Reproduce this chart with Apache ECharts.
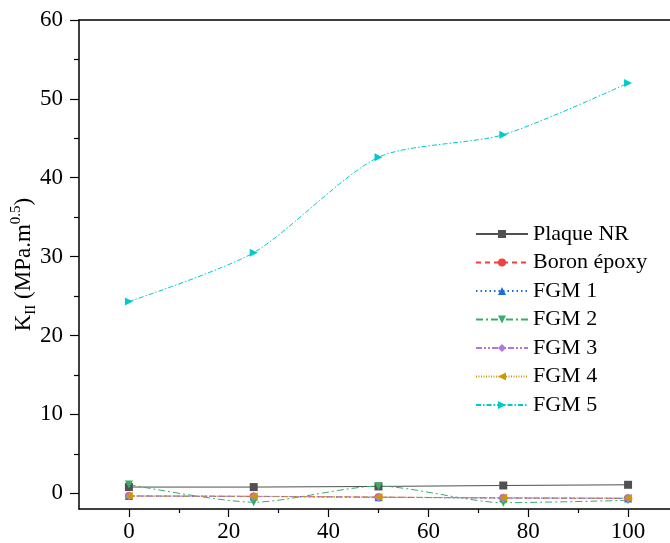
<!DOCTYPE html>
<html>
<head>
    <meta charset="UTF-8">
    <title>KII</title>
    <script src="https://cdn.jsdelivr.net/npm/echarts@6/dist/echarts.min.js"></script>
    <style>
        body { margin: 0; padding: 0; background: #fff; }
        #chart { width: 670px; height: 543px; }
    </style>
</head>
<body>
    <div id="chart"></div>
    <script>
        // valeurs
        const xValues = [0, 25, 50, 75, 100];
        const plaqueNR = [0.78, 0.78, 0.86, 0.98, 1.07];
        const boronEpoxy = [-0.35, -0.4, -0.5, -0.6, -0.65];
        const fgm1 = [-0.35, -0.42, -0.52, -0.62, -0.66];
        const fgm2 = [1.1, -1.14, 0.9, -1.2, -0.9];
        const fgm3 = [-0.36, -0.4, -0.5, -0.6, -0.64];
        const fgm4 = [-0.35, -0.38, -0.48, -0.58, -0.62];
        const fgm5 = [24.3, 30.5, 42.6, 45.45, 52.0];

        const xMajor = [0, 20, 40, 60, 80, 100];
        const xMinor = [10, 30, 50, 70, 90];
        const yMajor = [0, 10, 20, 30, 40, 50, 60];
        const yMinor = [5, 15, 25, 35, 45, 55];

        const font = 'Liberation Serif';

        const pairs = vals => xValues.map((x, i) => [x, vals[i]]);

        const seriesDefs = [
            { name: 'Plaque NR', data: plaqueNR, color: '#515151', type: 'solid', symbol: 'rect', rot: 0 },
            { name: 'Boron époxy', data: boronEpoxy, color: '#F14040', type: [5, 4], symbol: 'circle', rot: 0 },
            { name: 'FGM 1', data: fgm1, color: '#1A6FDF', type: [1.5, 3], symbol: 'triangle', rot: 0 },
            { name: 'FGM 2', data: fgm2, color: '#37AD6B', type: [7, 3, 2, 3], symbol: 'triangle', rot: 180 },
            { name: 'FGM 3', data: fgm3, color: '#B177DE', type: [6, 2, 2, 2, 2, 2], symbol: 'diamond', rot: 0 },
            { name: 'FGM 4', data: fgm4, color: '#CC9900', type: [1, 1.5], symbol: 'triangle', rot: 90 },
            { name: 'FGM 5', data: fgm5, color: '#00CBCC', type: [5, 2, 1.5, 2], symbol: 'triangle', rot: -90 }
        ];

        const chart = echarts.init(document.getElementById('chart'));

        const axisBase = {
            type: 'value',
            splitLine: { show: false }
        };

        const option = {
            backgroundColor: '#fff',
            animation: false,
            grid: { left: 79, right: 0, top: 20, bottom: 34, containLabel: false, outerBoundsMode: 'none' },
            legend: {
                orient: 'vertical',
                left: 470,
                top: 218,
                itemWidth: 52,
                itemHeight: 10,
                itemGap: 6.5,
                textStyle: { fontFamily: font, fontSize: 22, color: '#000' },
                data: seriesDefs.map(s => s.name)
            },
            xAxis: [
                Object.assign({}, axisBase, {
                    min: -10,
                    max: 108.4,
                    position: 'bottom',
                    axisLine: { onZero: false, lineStyle: { color: '#000', width: 1.5 } },
                    axisTick: { customValues: xMajor, length: 8, lineStyle: { color: '#000', width: 1.2 } },
                    axisLabel: { customValues: xMajor, margin: 11, fontFamily: font, fontSize: 23, color: '#000' }
                }),
                Object.assign({}, axisBase, {
                    min: -10,
                    max: 108.4,
                    position: 'bottom',
                    offset: 0,
                    axisLine: { show: false, onZero: false },
                    axisTick: { customValues: xMinor, length: 4, lineStyle: { color: '#000', width: 1.2 } },
                    axisLabel: { show: false }
                }),
                Object.assign({}, axisBase, {
                    min: -10,
                    max: 108.4,
                    position: 'top',
                    axisLine: { onZero: false, lineStyle: { color: '#000', width: 1.5 } },
                    axisTick: { show: false },
                    axisLabel: { show: false }
                })
            ],
            yAxis: [
                Object.assign({}, axisBase, {
                    min: -2,
                    max: 60,
                    position: 'left',
                    name: '{a|K}{sub|II}{a| (MPa.m}{sup|0.5}{a|)}',
                    nameLocation: 'middle',
                    nameGap: 40,
                    nameMoveOverlap: false,
                    nameRotate: 90,
                    nameTextStyle: {
                        rich: {
                            a: { fontFamily: font, fontSize: 23, color: '#000', lineHeight: 30, verticalAlign: 'middle' },
                            sub: { fontFamily: font, fontSize: 15, color: '#000', lineHeight: 30, verticalAlign: 'bottom' },
                            sup: { fontFamily: font, fontSize: 15, color: '#000', lineHeight: 30, verticalAlign: 'top' }
                        }
                    },
                    axisLine: { onZero: false, lineStyle: { color: '#000', width: 1.5 } },
                    axisTick: { customValues: yMajor, length: 9, lineStyle: { color: '#000', width: 1.2 } },
                    axisLabel: { customValues: yMajor, margin: 16, fontFamily: font, fontSize: 23, color: '#000' }
                }),
                Object.assign({}, axisBase, {
                    min: -2,
                    max: 60,
                    position: 'left',
                    offset: 0,
                    axisLine: { show: false, onZero: false },
                    axisTick: { customValues: yMinor, length: 5, lineStyle: { color: '#000', width: 1.2 } },
                    axisLabel: { show: false }
                })
            ],
            series: seriesDefs.map(s => ({
                name: s.name,
                type: 'line',
                xAxisIndex: 0,
                yAxisIndex: 0,
                data: pairs(s.data),
                smooth: s.name === 'Plaque NR' ? false : 0.25,
                symbol: s.symbol,
                symbolSize: s.symbol === 'diamond' ? 9 : 8,
                symbolRotate: s.rot,
                showAllSymbol: true,
                itemStyle: { color: s.color },
                lineStyle: { color: s.color, width: 1, type: s.type }
            }))
        };

        chart.setOption(option);
    </script>
</body>
</html>
